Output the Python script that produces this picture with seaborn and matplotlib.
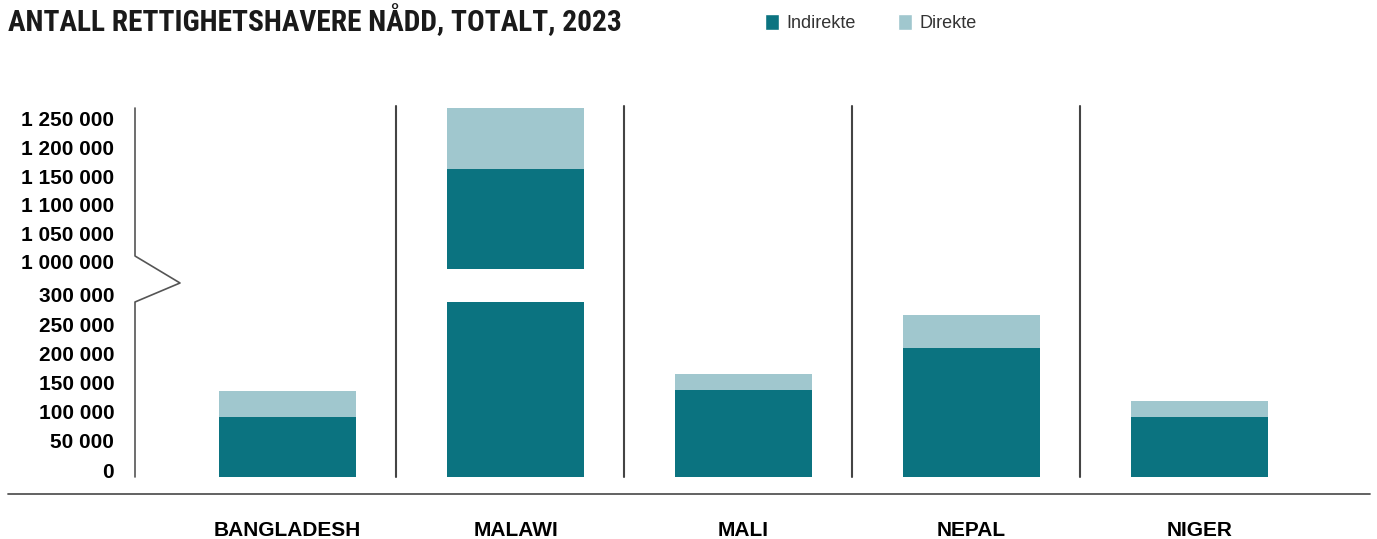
import matplotlib
matplotlib.use("Agg")
import matplotlib.pyplot as plt
import matplotlib.transforms as mtrans
from matplotlib.patches import Patch
from matplotlib.lines import Line2D
import seaborn as sns
import pandas as pd
import numpy as np

# ---------------- data ----------------
countries = ["BANGLADESH", "MALAWI", "MALI", "NEPAL", "NIGER"]
indirekte = [103000, 1174000, 149000, 221000, 103000]
direkte = [44500, 107000, 27500, 56500, 27500]
low_ticks = [0, 50000, 100000, 150000, 200000, 250000, 300000]
high_ticks = [1000000, 1050000, 1100000, 1150000, 1200000, 1250000]
title = "ANTALL RETTIGHETSHAVERE NÅDD, TOTALT, 2023"
legend_labels = ["Indirekte", "Direkte"]

DARK = "#0B7380"
LIGHT = "#A0C7CE"

sns.set_theme(style="white")
plt.rcParams["font.family"] = ["Liberation Sans", "DejaVu Sans"]

W, H = 1377, 539
fig = plt.figure(figsize=(W / 100, H / 100), dpi=100)


def fx(px):
    return px / W


def fy(py):
    return 1 - py / H


left, right = 135, 1370
ax_lo = fig.add_axes([fx(left), fy(477), fx(right) - fx(left), fy(302) - fy(477)])
ax_hi = fig.add_axes([fx(left), fy(269), fx(right) - fx(left), fy(108) - fy(269)])

df = pd.DataFrame({"land": countries, "ind": indirekte, "dir": direkte})
df["tot"] = df["ind"] + df["dir"]

for ax in (ax_lo, ax_hi):
    sns.barplot(data=df, x="land", y="tot", color=LIGHT, width=0.6, ax=ax,
                saturation=1, errorbar=None, linewidth=0)
    sns.barplot(data=df, x="land", y="ind", color=DARK, width=0.6, ax=ax,
                saturation=1, errorbar=None, linewidth=0)
    ax.set_xlim(-0.669, 4.748)
    for s in ax.spines.values():
        s.set_visible(False)
    ax.set_xlabel("")
    ax.set_ylabel("")
    ax.tick_params(length=0)
    ax.set_facecolor("none")

ax_lo.set_ylim(0, 300000)
ax_hi.set_ylim(1000000, 1281000)


def fmt(v):
    return f"{v:,}".replace(",", " ")


ax_lo.set_yticks(low_ticks)
ax_lo.set_yticklabels([fmt(v) for v in low_ticks])
ax_hi.set_yticks(high_ticks)
ax_hi.set_yticklabels([fmt(v) for v in high_ticks])
ax_hi.set_xticks([])

for ax, dy in ((ax_lo, 7), (ax_hi, 7)):
    off = mtrans.ScaledTranslation(0, dy / 100, fig.dpi_scale_trans)
    ax.tick_params(axis="y", pad=15, labelsize=15)
    for lbl in ax.get_yticklabels():
        lbl.set_fontweight("bold")
        lbl.set_color("#000000")
        lbl.set_transform(lbl.get_transform() + off)

ax_lo.set_xticks(range(len(countries)))
ax_lo.set_xticklabels(countries, fontweight="bold", fontsize=15, color="#000000")
ax_lo.tick_params(axis="x", pad=32)

# separators between countries
blend = mtrans.blended_transform_factory(ax_lo.transData, ax_lo.transAxes)
for xs in np.arange(len(countries) - 1) + 0.475:
    ax_lo.plot([xs, xs], [0, (477 - 106) / 175], transform=blend, clip_on=False,
               color="#444444", lw=1.5)

# y axis line with break
fig.add_artist(Line2D([fx(135), fx(135), fx(180), fx(135), fx(135)],
                      [fy(108), fy(256), fy(283), fy(302), fy(477)],
                      transform=fig.transFigure, color="#555555", lw=1.2))

# bottom rule
fig.add_artist(Line2D([fx(8), fx(1370)], [fy(494), fy(494)],
                      transform=fig.transFigure, color="#555555", lw=1.3))

# title (condensed heavy face; size fitted to the reference width)
t = fig.text(fx(8), fy(31), title, ha="left", va="baseline", fontsize=20,
             fontweight="bold", fontstretch="condensed",
             family=["Roboto Condensed", "DejaVu Sans Condensed",
                     "Liberation Sans Narrow", "Roboto", "DejaVu Sans"],
             color="#1a1a1a")
fig.canvas.draw()
w = t.get_window_extent().width
t.set_fontsize(20 * 614 / w)

# legend
handles = [Patch(facecolor=DARK, label=legend_labels[0]),
           Patch(facecolor=LIGHT, label=legend_labels[1])]
fig.legend(handles=handles, loc="upper left", bbox_to_anchor=(fx(765), fy(14)),
           ncol=2, frameon=False, fontsize=13, handlelength=0.8, handleheight=0.95,
           handletextpad=0.4, columnspacing=2.3, borderpad=0, borderaxespad=0,
           labelcolor="#333333")

fig.savefig("out.png", dpi=100)
